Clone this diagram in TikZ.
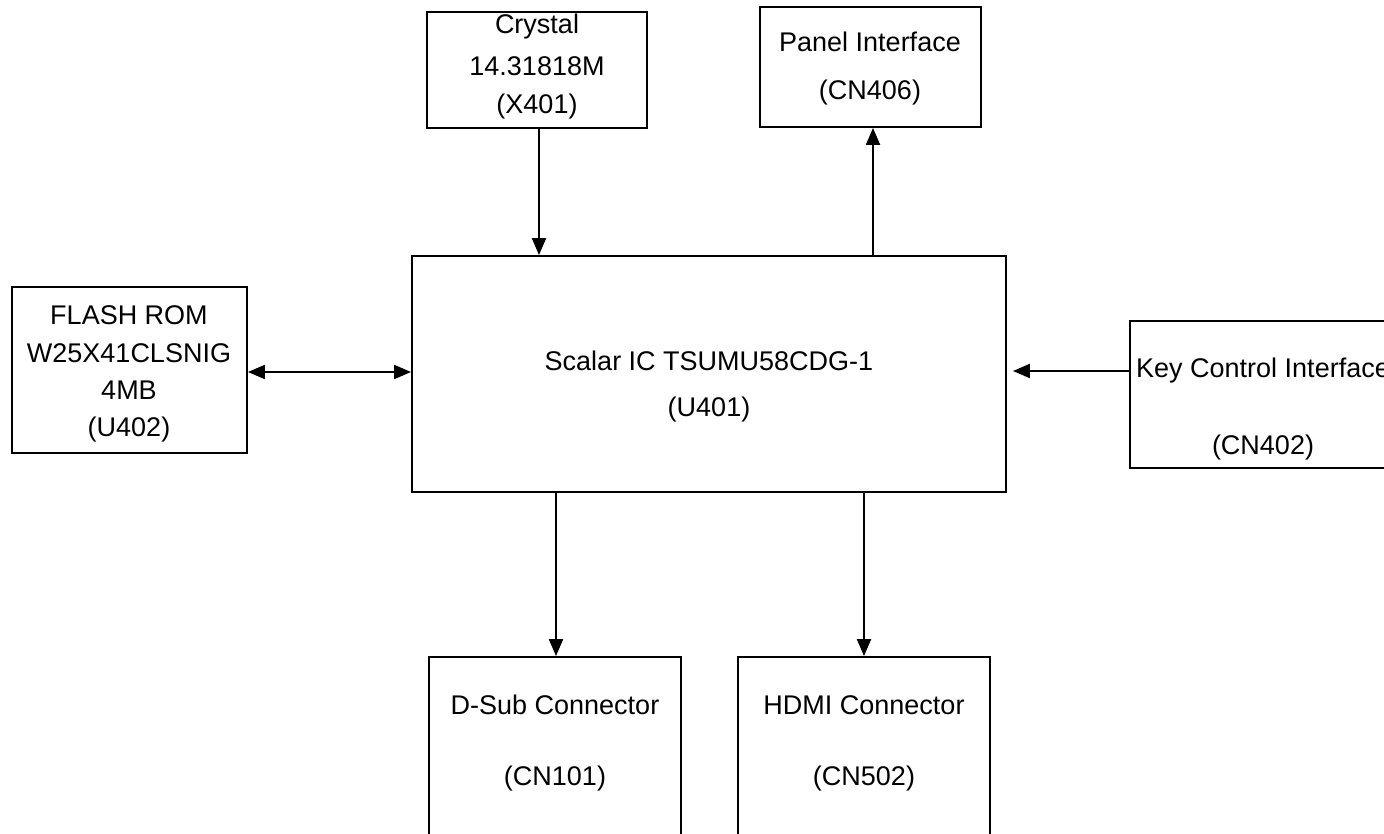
\documentclass[tikz,border=0pt]{standalone}
\usepackage{fontspec}
\setmainfont{Liberation Sans}
\usetikzlibrary{arrows.meta}
\begin{document}
\begin{tikzpicture}[x=1pt,y=-1pt,
  blk/.style={draw=black, line width=1.9pt, rectangle, inner sep=0pt},
  txt/.style={anchor=base, inner sep=0pt, font=\fontsize{27}{32}\selectfont},
  arr/.style={line width=2.1pt, -{Triangle[length=17pt,width=14pt]}},
  darr/.style={line width=2.1pt, {Triangle[length=17pt,width=14pt]}-{Triangle[length=17pt,width=14pt]}}]
\useasboundingbox (0,0) rectangle (1384,834);
\clip (0,0) rectangle (1384,834);
\fill[white] (0,0) rectangle (1384,834);
% boxes
\node[blk, minimum width=220pt, minimum height=116pt] (crystal) at (537,70) {};
\node[blk, minimum width=221pt, minimum height=120pt] (panel) at (870.5,67) {};
\node[blk, minimum width=594pt, minimum height=236pt] (scalar) at (709,374) {};
\node[blk, minimum width=235pt, minimum height=166pt] (flash) at (129.5,370) {};
\node[blk, minimum width=266pt, minimum height=147pt] (key) at (1263,394.5) {};
\node[blk, minimum width=252pt, minimum height=260pt] (dsub) at (555,787) {};
\node[blk, minimum width=252pt, minimum height=260pt] (hdmi) at (864,787) {};
% texts
\node[txt] (t1a) at (537,34) {Crystal};
\node[txt] (t1b) at (537,76) {14.31818M};
\node[txt] (t1c) at (537,114) {(X401)};
\node[txt] (t2a) at (870,52) {Panel Interface};
\node[txt] (t2b) at (870,100) {(CN406)};
\node[txt] (t3a) at (709,370) {Scalar IC TSUMU58CDG-1};
\node[txt] (t3b) at (709,416) {(U401)};
\node[txt] (t4a) at (129,324) {FLASH ROM};
\node[txt] (t4b) at (129,362) {W25X41CLSNIG};
\node[txt] (t4c) at (129,399) {4MB};
\node[txt] (t4d) at (129,436) {(U402)};
\node[txt] (t5a) at (1263,377) {Key Control Interface};
\node[txt] (t5b) at (1263,454) {(CN402)};
\node[txt] (t6a) at (555,714) {D-Sub Connector};
\node[txt] (t6b) at (555,785) {(CN101)};
\node[txt] (t7a) at (864,714) {HDMI Connector};
\node[txt] (t7b) at (864,785) {(CN502)};
% connectors
\draw[arr] ([xshift=2pt]crystal.south) -- ([xshift=2pt]crystal.south |- scalar.north);
\draw[arr] ([xshift=2.5pt]panel.south |- scalar.north) -- ([xshift=2.5pt]panel.south);
\draw[darr] ([yshift=-2pt]flash.east) -- ([yshift=-2pt]flash.east -| scalar.west);
\draw[arr] ([yshift=23.5pt]key.west) -- ([xshift=6pt,yshift=23.5pt]key.west -| scalar.east);
\draw[arr] ([xshift=1pt]dsub.north |- scalar.south) -- ([xshift=1pt]dsub.north);
\draw[arr] (hdmi.north |- scalar.south) -- (hdmi.north);
\end{tikzpicture}
\end{document}
